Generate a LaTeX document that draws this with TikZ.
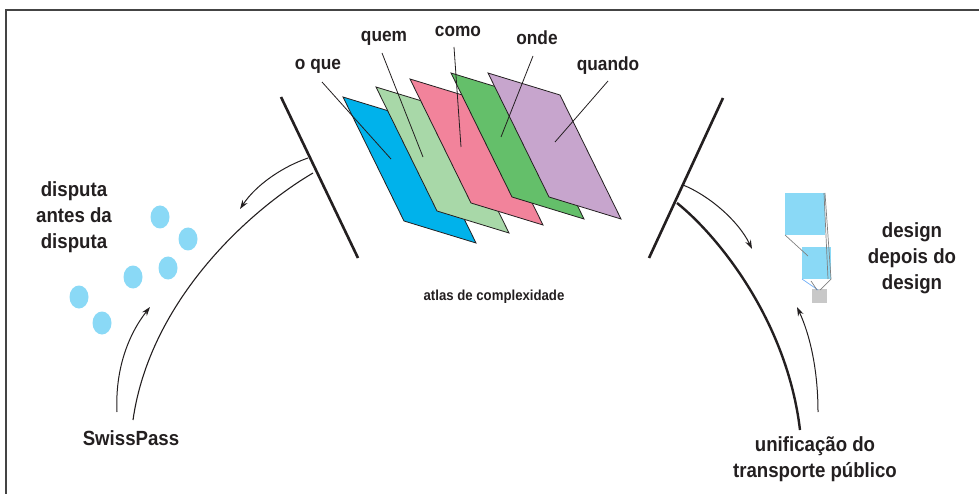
\documentclass[tikz,border=0pt]{standalone}
\usepackage{fontspec}
\setmainfont{Liberation Sans}
\newfontfamily\lblfont[FakeStretch=0.91]{Liberation Sans}
\usetikzlibrary{arrows.meta}
\definecolor{ink}{HTML}{231F20}
\definecolor{frame}{HTML}{444444}
\definecolor{pblue}{HTML}{00B2EB}
\definecolor{plgreen}{HTML}{A8D8A8}
\definecolor{ppink}{HTML}{F2839B}
\definecolor{pgreen}{HTML}{64BF6A}
\definecolor{ppurple}{HTML}{C7A5CD}
\definecolor{dot}{HTML}{8AD9F6}
\definecolor{lgray}{HTML}{C8C8C8}
\tikzset{
  x=1pt,y=-1pt,
  bigtxt/.style={font=\lblfont\bfseries\fontsize{20.5}{26}\selectfont, text=ink, align=center, inner sep=0pt},
  midtxt/.style={font=\lblfont\bfseries\fontsize{19}{22}\selectfont, text=ink, inner sep=0pt},
  smalltxt/.style={font=\lblfont\bfseries\fontsize{14.5}{17}\selectfont, text=ink, inner sep=0pt},
  bar/.style={line width=2.6pt, draw=ink},
  sheet/.style={draw=ink, line width=0.8pt, line join=miter},
  leader/.style={draw=ink, line width=0.8pt},
  arr/.style={draw=ink, line width=1pt, -{Stealth[length=9pt,width=6pt]}},
  thin/.style={draw=ink, line width=1.1pt},
  thick/.style={draw=ink, line width=2.4pt},
  dotc/.style={fill=dot, draw=none},
}
\begin{document}
\begin{tikzpicture}
\useasboundingbox (0,0) rectangle (979,494);
% frame
\draw[frame, line width=1.5pt] (6,494) -- (6,10) -- (979,10);

% bars
\coordinate (lbT) at (281,97);
\coordinate (lbB) at (358,258);
\coordinate (rbT) at (723,98);
\coordinate (rbB) at (649,258);
\draw[bar] (lbT) -- (lbB);
\draw[bar] (rbT) -- (rbB);

% sheets: a=(72,22), b=(61,124)
\foreach \n/\c/\tx/\ty in {s1/pblue/343/97, s2/plgreen/376/87, s3/ppink/410/79, s4/pgreen/451/73, s5/ppurple/488/73}{
  \filldraw[sheet, fill=\c] (\tx,\ty) -- ++(72,22) -- ++(61,124) -- ++(-72,-22) -- cycle;
}
\coordinate (p1) at (391,159);
\coordinate (p2) at (423,157);
\coordinate (p3) at (461,147);
\coordinate (p4) at (501,137);
\coordinate (p5) at (555,142);

% labels
\node[midtxt] (oque) at (318,66) {o que};
\node[midtxt] (quem) at (384,38) {quem};
\node[midtxt] (como) at (458,31) {como};
\node[midtxt] (onde) at (537,38) {onde};
\node[midtxt] (quando) at (608,66) {quando};
\draw[leader] (322,82) -- (p1);
\draw[leader] (382,53) -- (p2);
\draw[leader] (454,47) -- (p3);
\draw[leader] (533,56) -- (p4);
\draw[leader] (608,81) -- (p5);

\node[smalltxt] (atlas) at (494,297) {atlas de complexidade};

% left side
\node[bigtxt] (disputa) at (74,217) {disputa\\antes da\\disputa};
\node[bigtxt] (swiss) at (131,438) {SwissPass};
\foreach \x/\y in {160/217, 188/239, 168/268, 133/277, 79/297, 102/323}{
  \fill[dotc] (\x,\y) ellipse [x radius=9.5, y radius=11.5];
}
\coordinate (la1) at (308,158);
\coordinate (la2) at (240,209);
\coordinate (lc1) at (313,173);
\coordinate (lc2) at (133,420);
\coordinate (lu1) at (117,412);
\coordinate (lu2) at (150,307);
\draw[arr] (la1) .. controls (282,167) and (256,185) .. (la2);
\draw[thin] (lc1) .. controls (250,210) and (150,300) .. (lc2);
\draw[arr] (lu1) .. controls (115,370) and (128,335) .. (lu2);

% right side
\node[bigtxt] (design) at (912,258) {design\\depois do\\design};
\node[bigtxt] (unif) at (815,459) {unificação do\\transporte público};
\coordinate (ra1) at (683,185);
\coordinate (ra2) at (752,249);
\coordinate (rc1) at (677,203);
\coordinate (rc2) at (800,430);
\coordinate (ru1) at (818,412);
\coordinate (ru2) at (797,307);
\draw[arr] (ra1) .. controls (708,195) and (738,220) .. (ra2);
\draw[thick] (rc1) .. controls (717,235) and (787,320) .. (rc2);
\draw[arr] (ru1) .. controls (818,370) and (810,335) .. (ru2);

% icon
\fill[dot] (785,193) rectangle (825,235);
\fill[dot] (802,247) rectangle (831,279);
\fill[lgray] (812,289) rectangle (827,303);
\draw[gray, line width=0.7pt] (785,235) -- (808,256);
\draw[gray, line width=0.7pt] (825,193) -- (831,279);
\draw[gray, line width=0.7pt] (824,193) -- (828,279);
\draw[dot!80!blue, line width=0.7pt] (802,279) -- (818,290);
\draw[gray, line width=0.7pt] (831,279) -- (820,290);
\draw[gray, line width=0.7pt] (811,281) -- (817,290);
\end{tikzpicture}
\end{document}
